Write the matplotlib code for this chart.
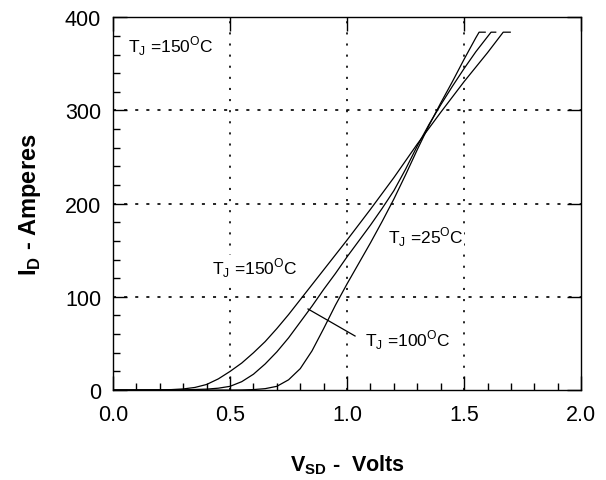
import matplotlib
matplotlib.use('agg')
import matplotlib.pyplot as plt
from matplotlib.ticker import MultipleLocator

plt.rcParams['font.family'] = ['Liberation Sans', 'DejaVu Sans']
plt.rcParams['mathtext.fontset'] = 'custom'
plt.rcParams['mathtext.rm'] = 'Liberation Sans'
plt.rcParams['mathtext.bf'] = 'Liberation Sans:bold'
plt.rcParams['lines.scale_dashes'] = False

# source-drain voltage (V) vs drain current (A)
v_150 = [0.0, 0.2, 0.25, 0.3, 0.35, 0.4, 0.45, 0.5, 0.55, 0.6, 0.65, 0.7, 0.75,
         0.8, 0.85, 0.9, 0.95, 1.0, 1.1, 1.2, 1.3, 1.4, 1.5, 1.6, 1.667, 1.697]
i_150 = [0, 0.2, 0.5, 1.2, 2.8, 6, 12, 20, 29, 40, 52, 66, 81,
         97, 113, 129, 145, 161, 194, 228, 264, 298, 331, 362, 384, 384]

v_100 = [0.0, 0.3, 0.4, 0.45, 0.5, 0.55, 0.6, 0.65, 0.7, 0.75, 0.8, 0.85, 0.9,
         0.95, 1.0, 1.05, 1.1, 1.15, 1.2, 1.25, 1.3, 1.35, 1.4, 1.45, 1.5, 1.55,
         1.615, 1.635]
i_100 = [0, 0.2, 1, 2, 4, 9, 17, 28, 41, 56, 73, 90, 108,
         125, 143, 160, 177, 195, 214, 237, 262, 285, 306, 326, 345, 363,
         384, 384]

v_25 = [0.0, 0.5, 0.55, 0.6, 0.65, 0.7, 0.75, 0.8, 0.85, 0.9, 0.95, 1.0, 1.05,
        1.1, 1.15, 1.2, 1.25, 1.3, 1.35, 1.4, 1.45, 1.5, 1.55, 1.564, 1.59]
i_25 = [0, 0, 0.1, 0.5, 1.5, 4, 11, 23, 42, 66, 91, 114, 136,
        158, 181, 205, 231, 258, 284, 308, 331, 355, 378, 384, 384]

x_ticks = [0.0, 0.5, 1.0, 1.5, 2.0]
y_ticks = [0, 100, 200, 300, 400]

fig = plt.figure(figsize=(6.06, 4.81), dpi=100)
ax = fig.add_axes([0.1865, 0.187, 0.7725, 0.775])

for v, i in [(v_150, i_150), (v_100, i_100), (v_25, i_25)]:
    ax.plot(v, i, color='black', linewidth=0.9, zorder=3)

ax.set_xlim(0, 2.0)
ax.set_ylim(0, 400)
ax.set_xticks(x_ticks)
ax.set_xticklabels([f'{t:.1f}' for t in x_ticks])
ax.set_yticks(y_ticks)
ax.xaxis.set_minor_locator(MultipleLocator(0.1))
ax.yaxis.set_minor_locator(MultipleLocator(20))

ax.tick_params(which='major', direction='in', length=10, width=1,
               labelsize=15.5, top=True, right=True, color='black')
ax.tick_params(axis='x', which='major', pad=10)
ax.tick_params(axis='y', which='major', pad=8.5)
ax.tick_params(which='minor', direction='in', length=5, width=1,
               top=False, right=False)
for s in ax.spines.values():
    s.set_linewidth(1.0)

for x in x_ticks[1:-1]:
    ax.axvline(x, color='black', linewidth=1.2, linestyle=(0, (1.5, 6.5)), zorder=1)
for y in y_ticks[1:-1]:
    ax.axhline(y, color='black', linewidth=1.2, linestyle=(0, (2.2, 5.8)), zorder=1)

lab = dict(fontsize=12.5, va='center', ha='left', zorder=4)
box = dict(facecolor='white', edgecolor='none', pad=0)
ax.text(0.065, 370, r'T$_{\rm J}$ =150$^{\rm O}$C', **lab)
ax.text(0.423, 132, r'T$_{\rm J}$ =150$^{\rm O}$C', bbox=box, **lab)
ax.text(1.175, 165, r'T$_{\rm J}$ =25$^{\rm O}$C', bbox=box, **lab)
ax.text(1.077, 55, r'T$_{\rm J}$ =100$^{\rm O}$C', bbox=box, **lab)
ax.plot([0.833, 1.034], [87, 58], color='black', linewidth=0.9, zorder=3)

ax.set_xlabel(r'V$_{\mathbf{SD}}$ -  Volts', fontsize=15.5, fontweight='bold', labelpad=20)
ax.set_ylabel(r'I$_{\mathbf{D}}$ - Amperes', fontsize=17, fontweight='bold', labelpad=16)

fig.savefig('out.png', dpi=100)
